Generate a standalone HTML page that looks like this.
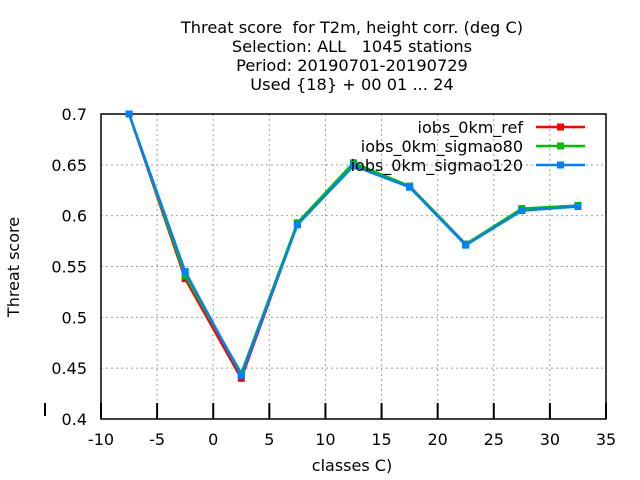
<!DOCTYPE html>
<html><head><meta charset="utf-8"><style>
body{margin:0;background:#fff;}
svg{display:block;font-family:"DejaVu Sans","Liberation Sans",sans-serif;}
text{white-space:pre;}
</style></head><body>
<svg id="chart" width="640" height="480" viewBox="0 0 640 480">
<g font-size="16.2" text-anchor="middle" fill="#000">
<text x="352" y="33" xml:space="preserve">Threat score  for T2m, height corr. (deg C)</text>
<text x="352" y="52" xml:space="preserve">Selection: ALL   1045 stations</text>
<text x="352" y="71">Period: 20190701-20190729</text>
<text x="352" y="90">Used {18} + 00 01 ... 24</text>
</g>
<g id="grid"></g>
<g id="axes"></g>
<g id="series"></g>
<g id="legend"></g>
<text x="19" y="267" font-size="16" text-anchor="middle" transform="rotate(-90 19 267)">Threat score</text>
<text x="352" y="471" font-size="16" text-anchor="middle">classes C)</text>
<line x1="45" y1="403" x2="45" y2="416" stroke="#000" stroke-width="2"/>
</svg>
<script>
const categories = [-7.5, -2.5, 2.5, 7.5, 12.5, 17.5, 22.5, 27.5, 32.5];
const seriesNames = ["iobs_0km_ref", "iobs_0km_sigmao80", "iobs_0km_sigmao120"];
const seriesColors = ["#ff0000", "#00c000", "#0080ff"];
const refValues = [0.7, 0.538, 0.44, 0.592, 0.65, 0.629, 0.572, 0.606, 0.61];
const sig80Values = [0.7, 0.541, 0.445, 0.593, 0.652, 0.629, 0.572, 0.607, 0.61];
const sig120Values = [0.7, 0.545, 0.443, 0.591, 0.649, 0.628, 0.571, 0.605, 0.609];
const xTicks = [-10, -5, 0, 5, 10, 15, 20, 25, 30, 35];
const yTicks = [0.4, 0.45, 0.5, 0.55, 0.6, 0.65, 0.7];
const yTickLabels = ["0.4", "0.45", "0.5", "0.55", "0.6", "0.65", "0.7"];

const L=101, R=606, T=114, B=419;
const xMin=-10, xMax=35, yMin=0.4, yMax=0.7;
const xs = v => L + (v - xMin) / (xMax - xMin) * (R - L);
const ys = v => B - (v - yMin) / (yMax - yMin) * (B - T);
const NS = "http://www.w3.org/2000/svg";
function mk(tag, attrs, parent){const e=document.createElementNS(NS,tag);for(const k in attrs)e.setAttribute(k,attrs[k]);parent.appendChild(e);return e;}
const grid=document.getElementById('grid'), axes=document.getElementById('axes'), series=document.getElementById('series'), legend=document.getElementById('legend');

xTicks.forEach((t,i)=>{
  const x=xs(t);
  if(i>0 && i<xTicks.length-1){
    const g=mk('line',{x1:x,y1:T,x2:x,y2:B,stroke:'#a0a0a0','stroke-width':1,'stroke-dasharray':'2,3'},grid);
    
    
  }
  const tk=mk('line',{x1:x,y1:B-16,x2:x,y2:B,stroke:'#000','stroke-width':2},axes);
  
  
  const lb=mk('text',{x:x,y:B+26,'font-size':16,'text-anchor':'middle'},axes);
  lb.textContent=String(t);
  
  
});
yTicks.forEach((t,i)=>{
  const y=ys(t);
  if(i>0 && i<yTicks.length-1){
    const g=mk('line',{x1:L,y1:y,x2:R,y2:y,stroke:'#a0a0a0','stroke-width':1,'stroke-dasharray':'2,3'},grid);
    
    
  }
  const lb=mk('text',{x:L-14,y:y+6,'font-size':16,'text-anchor':'end'},axes);
  lb.textContent=yTickLabels[i];
  
  
});
const fr=mk('rect',{x:L,y:T,width:R-L,height:B-T,fill:'none',stroke:'#000','stroke-width':1.5},axes);



const allValues=[refValues,sig80Values,sig120Values];
allValues.forEach((vals,si)=>{
  const g=mk('g',{},series);
  
  
  const pts=categories.map((c,i)=>xs(c)+','+ys(vals[i])).join(' ');
  const pl=mk('polyline',{points:pts,fill:'none',stroke:seriesColors[si],'stroke-width':2.5},g);
  
  
  categories.forEach((c,i)=>{
    const m=mk('rect',{x:xs(c)-3.5,y:ys(vals[i])-3.5,width:7,height:7,fill:seriesColors[si]},g);
    
    
  });
});

seriesNames.forEach((n,i)=>{
  const y=127+i*19;
  const g=mk('g',{},legend);
  
  
  const t=mk('text',{x:523,y:y+6,'font-size':16,'text-anchor':'end'},g);
  t.textContent=n;
  mk('line',{x1:536,y1:y,x2:585,y2:y,stroke:seriesColors[i],'stroke-width':2.5},g);
  mk('rect',{x:557,y:y-3.5,width:7,height:7,fill:seriesColors[i]},g);
});
</script>
</body></html>
